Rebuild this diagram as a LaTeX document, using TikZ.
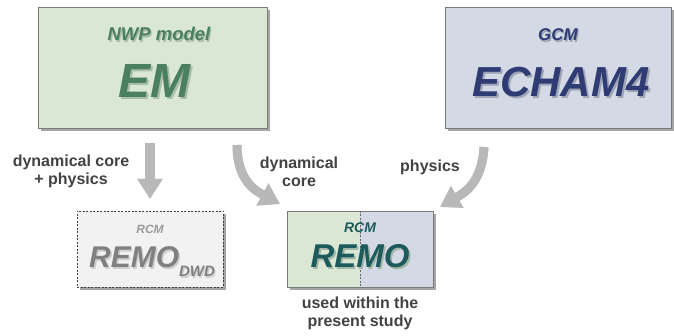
\documentclass[tikz,border=0pt]{standalone}
\usepackage{fontspec}
\setmainfont{Liberation Sans}
\usetikzlibrary{arrows.meta,shadows}
\definecolor{emfill}{HTML}{DAE7D5}
\definecolor{emtext}{HTML}{4A8060}
\definecolor{emshade}{HTML}{A9BEA4}
\definecolor{gcmfill}{HTML}{D4DAE5}
\definecolor{gcmtext}{HTML}{2F3B73}
\definecolor{gcmshade}{HTML}{9EA5B6}
\definecolor{remotext}{HTML}{1D5A5C}
\definecolor{remoshade}{HTML}{A3B6A8}
\definecolor{dwdfill}{HTML}{F2F2F2}
\definecolor{dwdtext}{HTML}{808080}
\definecolor{dwdshade}{HTML}{CFCFCF}
\definecolor{arrowgray}{HTML}{B8B8B8}
\definecolor{labelgray}{HTML}{424242}
\definecolor{boxline}{HTML}{7A7A7A}
\newcommand\shadtxt[3]{\rlap{\kern#3\raisebox{-#3}{\color{#1}#2}}#2}
\tikzset{
  modelbox/.style={draw=boxline, line width=0.8pt, inner sep=0pt,
    drop shadow={shadow xshift=3pt, shadow yshift=-3pt, fill=black, opacity=0.35}},
  bigbox/.style={modelbox, minimum width=229pt, minimum height=121pt},
  smallbox/.style={modelbox, minimum width=146pt, minimum height=76pt},
  txt/.style={inner sep=0pt, anchor=base},
  bi/.style={font=\bfseries\itshape\fontsize{#1}{#1}\selectfont},
  lbl/.style={inner sep=0pt, align=center, text=labelgray,
    font=\bfseries\fontsize{16}{18}\selectfont},
  fatarrow/.style={draw=arrowgray, line width=9pt,
    -{Triangle[length=20pt,width=24pt]}},
  fatshadow/.style={draw=black!45, opacity=0.35, line width=9pt,
    -{Triangle[length=20pt,width=24pt]}, xshift=2pt, yshift=-2pt}
}
\begin{document}
\begin{tikzpicture}[x=1pt,y=-1pt]
\useasboundingbox (0,0) rectangle (674,336);

% boxes
\node[bigbox, fill=emfill] (em) at (152.5,67.5) {};
\node[bigbox, fill=gcmfill, minimum width=226pt] (gcm) at (558,67.5) {};
\node[smallbox, fill=dwdfill, draw=black!75, dash pattern=on 2pt off 1.5pt] (dwd) at (150,249) {};
\node[smallbox, fill=emfill,
  path picture={
    \fill[gcmfill] (path picture bounding box.north) rectangle (path picture bounding box.south east);
    \draw[black!60, line width=0.6pt, dash pattern=on 2pt off 1.5pt]
      (path picture bounding box.north) -- (path picture bounding box.south);
  }] (remo) at (360,249) {};

% texts in EM box
\node[txt, bi=18.5, text=emtext] (nwp) at (159,41) {\shadtxt{emshade}{NWP model}{1.2pt}};
\node[txt, bi=48, text=emtext] (emt) at (154,98) {\shadtxt{emshade}{EM}{2pt}};

% texts in GCM box
\node[txt, bi=17, text=gcmtext] (gcmt) at (558,41) {\shadtxt{gcmshade}{GCM}{1.2pt}};
\node[txt, bi=42, text=gcmtext] (ech) at (561,97) {\shadtxt{gcmshade}{ECHAM4}{2pt}};

% texts in REMO_DWD box
\node[txt, bi=12, text=dwdtext!80] (dwdrcm) at (150,234) {RCM};
\node[txt, bi=30, text=dwdtext] (dwdt) at (152,268)
  {\shadtxt{dwdshade}{REMO}{1.6pt}\raisebox{-9pt}{\fontsize{15}{15}\selectfont\shadtxt{dwdshade}{DWD}{1.2pt}}};

% texts in REMO box
\node[txt, bi=14, text=remotext] (remorcm) at (360,233) {RCM};
\node[txt, bi=33, text=remotext] (remot) at (360,268) {\shadtxt{remoshade}{REMO}{1.8pt}};

% arrows
\coordinate (a1s) at (150,143);
\coordinate (a1e) at (150,199);
\coordinate (a2s) at (237,145);
\coordinate (a2e) at (280,204);
\coordinate (a3s) at (484,147);
\coordinate (a3e) at (440,207);

\draw[fatshadow, line width=10pt] (a1s) -- (a1e);
\draw[fatshadow] (a2s) .. controls +(0,36) and +(-24,-13) .. (a2e);
\draw[fatshadow] (a3s) .. controls +(-2,36) and +(24,-14) .. (a3e);
\draw[fatarrow, line width=10pt] (a1s) -- (a1e);
\draw[fatarrow] (a2s) .. controls +(0,36) and +(-24,-13) .. (a2e);
\draw[fatarrow] (a3s) .. controls +(-2,36) and +(24,-14) .. (a3e);

% labels
\node[lbl] (l1) at (71,171) {dynamical core\\+ physics};
\node[lbl] (l2) at (299,172) {dynamical\\core};
\node[lbl] (l3) at (430,167) {physics};
\node[lbl] (l4) at (360,313) {used within the\\present study};
\end{tikzpicture}
\end{document}
